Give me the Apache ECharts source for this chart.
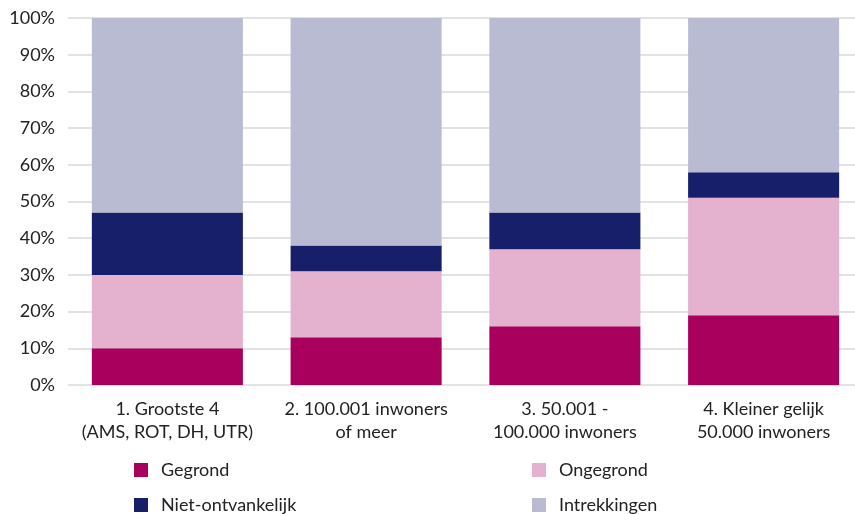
<!DOCTYPE html>
<html><head><meta charset="utf-8">
<script src="https://cdn.jsdelivr.net/npm/echarts@6/dist/echarts.min.js"></script>
<style>html,body{margin:0;padding:0;background:#fff}#c{width:855px;height:514px}</style>
</head><body><div id="c"></div>
<script>
const categories = ['1. Grootste 4\n(AMS, ROT, DH, UTR)', '2. 100.001 inwoners\nof meer', '3. 50.001 -\n100.000 inwoners', '4. Kleiner gelijk\n50.000 inwoners'];
const gegrond = [10, 13, 16, 19];
const ongegrond = [20, 18, 21, 32];
const nietOntvankelijk = [17, 7, 10, 7];
const intrekkingen = [53, 62, 53, 42];
const yTicks = [0, 10, 20, 30, 40, 50, 60, 70, 80, 90, 100];

const font = 'Lato';
const chart = echarts.init(document.getElementById('c'));
function s(name, data, color) {
  return { name, type: 'bar', stack: 'a', data, barWidth: '76%', itemStyle: { color }, emphasis: { disabled: true } };
}
function lg(name, left, top) {
  return {
    orient: 'horizontal', left, top, data: [name], itemWidth: 14, itemHeight: 14, icon: 'rect',
    textStyle: { fontFamily: font, fontSize: 18, color: '#222', padding: [0, 0, 0, 8] }
  };
}
chart.setOption({
  animation: false,
  grid: { left: 68, width: 795, top: 18, bottom: 129, outerBoundsMode: 'none', containLabel: false },
  legend: [
    lg('Gegrond', 129, 456),
    lg('Niet-ontvankelijk', 129, 491),
    lg('Ongegrond', 527, 456),
    lg('Intrekkingen', 527, 491)
  ],
  xAxis: {
    type: 'category', data: categories,
    axisLine: { show: false }, axisTick: { show: false },
    axisLabel: { fontFamily: font, fontSize: 18, color: '#222', lineHeight: 23, margin: 13, interval: 0 }
  },
  yAxis: {
    type: 'value', min: 0, max: 100, interval: 10,
    axisLabel: { fontFamily: font, fontSize: 18, color: '#222', margin: 13,
      formatter: v => yTicks.includes(v) ? v + '%' : '' },
    splitLine: { lineStyle: { color: '#d9d9d9', width: 1.5 } },
    axisLine: { show: false }, axisTick: { show: false }
  },
  series: [
    s('Gegrond', gegrond, '#a8005c'),
    s('Ongegrond', ongegrond, '#e4b1cf'),
    s('Niet-ontvankelijk', nietOntvankelijk, '#171f6b'),
    s('Intrekkingen', intrekkingen, '#b9bbd3')
  ]
});
</script></body></html>
